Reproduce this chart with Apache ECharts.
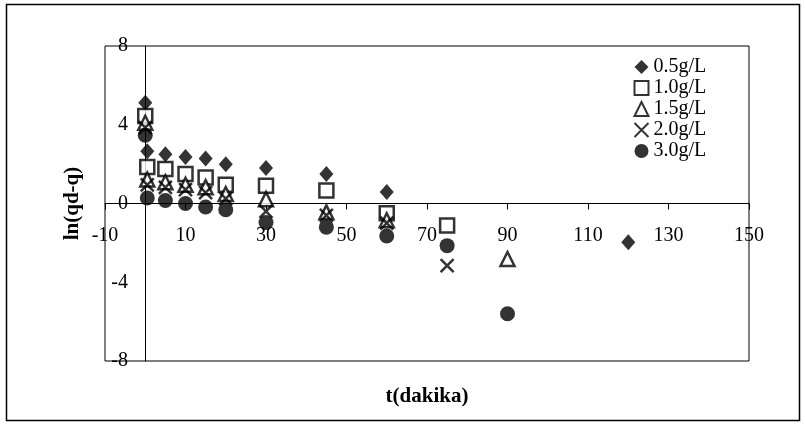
<!DOCTYPE html>
<html>
<head>
<meta charset="utf-8">
<script src="https://cdn.jsdelivr.net/npm/echarts@6/dist/echarts.min.js"></script>
<style>
html,body{margin:0;padding:0;background:#fff;}
#chart{width:805px;height:425px;}
</style>
</head>
<body>
<div id="chart"></div>
<script>
// Data
const seriesNames = ['0.5g/L', '1.0g/L', '1.5g/L', '2.0g/L', '3.0g/L'];
const s05 = [[0,5.12],[0.5,2.65],[5,2.5],[10,2.36],[15,2.28],[20,2.0],[30,1.8],[45,1.5],[60,0.58],[120,-1.97]];
const s10 = [[0,4.44],[0.5,1.85],[5,1.75],[10,1.5],[15,1.32],[20,0.95],[30,0.9],[45,0.66],[60,-0.5],[75,-1.12]];
const s15 = [[0,4.1],[0.5,1.22],[5,1.08],[10,0.95],[15,0.83],[20,0.48],[30,0.22],[45,-0.45],[60,-0.85],[90,-2.82]];
const s20 = [[0,3.85],[0.5,0.95],[5,0.82],[10,0.7],[15,0.55],[20,0.25],[30,-0.4],[45,-0.6],[60,-1.0],[75,-3.16]];
const s30 = [[0,3.47],[0.5,0.28],[5,0.15],[10,0.0],[15,-0.18],[20,-0.32],[30,-0.97],[45,-1.2],[60,-1.65],[75,-2.14],[90,-5.6]];
const xTitle = 't(dakika)';
const yTitle = 'ln(qd-q)';

const serif = 'Liberation Serif';
const chart = echarts.init(document.getElementById('chart'));

const xPath = 'path://M0,0L10,10M10,0L0,10';

chart.setOption({
  animation: false,
  backgroundColor: '#fff',
  graphic: [{
    type: 'rect',
    shape: {x: 6.5, y: 4.5, width: 793, height: 416},
    style: {fill: 'none', stroke: '#000', lineWidth: 1.5},
    silent: true,
    z: -1
  }],
  grid: {
    left: 105, right: 56, top: 46, bottom: 64,
    containLabel: false, outerBoundsMode: 'none',
    show: true, borderColor: '#000', borderWidth: 1, backgroundColor: 'transparent'
  },
  legend: {
    orient: 'vertical',
    left: 627, top: 52,
    itemWidth: 14, itemHeight: 14, itemGap: 1,
    textStyle: {fontFamily: serif, fontSize: 20, color: '#000', lineHeight: 20},
    data: seriesNames
  },
  xAxis: {
    type: 'value', min: -10, max: 150, interval: 20,
    position: 'bottom', offset: -157.5,
    name: xTitle, nameLocation: 'middle', nameGap: 183,
    nameTextStyle: {fontFamily: serif, fontSize: 21, fontWeight: 'bold', color: '#000'},
    axisLine: {onZero: false, lineStyle: {color: '#000', width: 1}},
    axisTick: {show: true, length: 6, lineStyle: {color: '#000'}},
    axisLabel: {fontFamily: serif, fontSize: 20, color: '#000', margin: 22},
    splitLine: {show: false}
  },
  yAxis: {
    type: 'value', min: -8, max: 8, interval: 4,
    position: 'left', offset: -40,
    name: yTitle, nameLocation: 'middle', nameGap: 62, nameRotate: 90,
    nameTextStyle: {fontFamily: serif, fontSize: 21, fontWeight: 'bold', color: '#000'},
    axisLine: {onZero: false, lineStyle: {color: '#000', width: 1}},
    axisTick: {show: false},
    axisLabel: {fontFamily: serif, fontSize: 20, color: '#000', margin: 17},
    splitLine: {show: false}
  },
  series: [
    {name: seriesNames[0], type: 'scatter', data: s05, symbol: 'diamond', symbolSize: [14, 16],
     itemStyle: {color: '#000'}},
    {name: seriesNames[1], type: 'scatter', data: s10, symbol: 'rect', symbolSize: 14,
     itemStyle: {color: '#fff', borderColor: '#000', borderWidth: 2.5}},
    {name: seriesNames[2], type: 'scatter', data: s15, symbol: 'triangle', symbolSize: 14,
     itemStyle: {color: '#fff', borderColor: '#000', borderWidth: 2.5}},
    {name: seriesNames[3], type: 'scatter', data: s20, symbol: xPath, symbolSize: 13,
     itemStyle: {color: 'none', borderColor: '#000', borderWidth: 2.5}},
    {name: seriesNames[4], type: 'scatter', data: s30, symbol: 'circle', symbolSize: 15,
     itemStyle: {color: '#000'}}
  ]
});
</script>
</body>
</html>
